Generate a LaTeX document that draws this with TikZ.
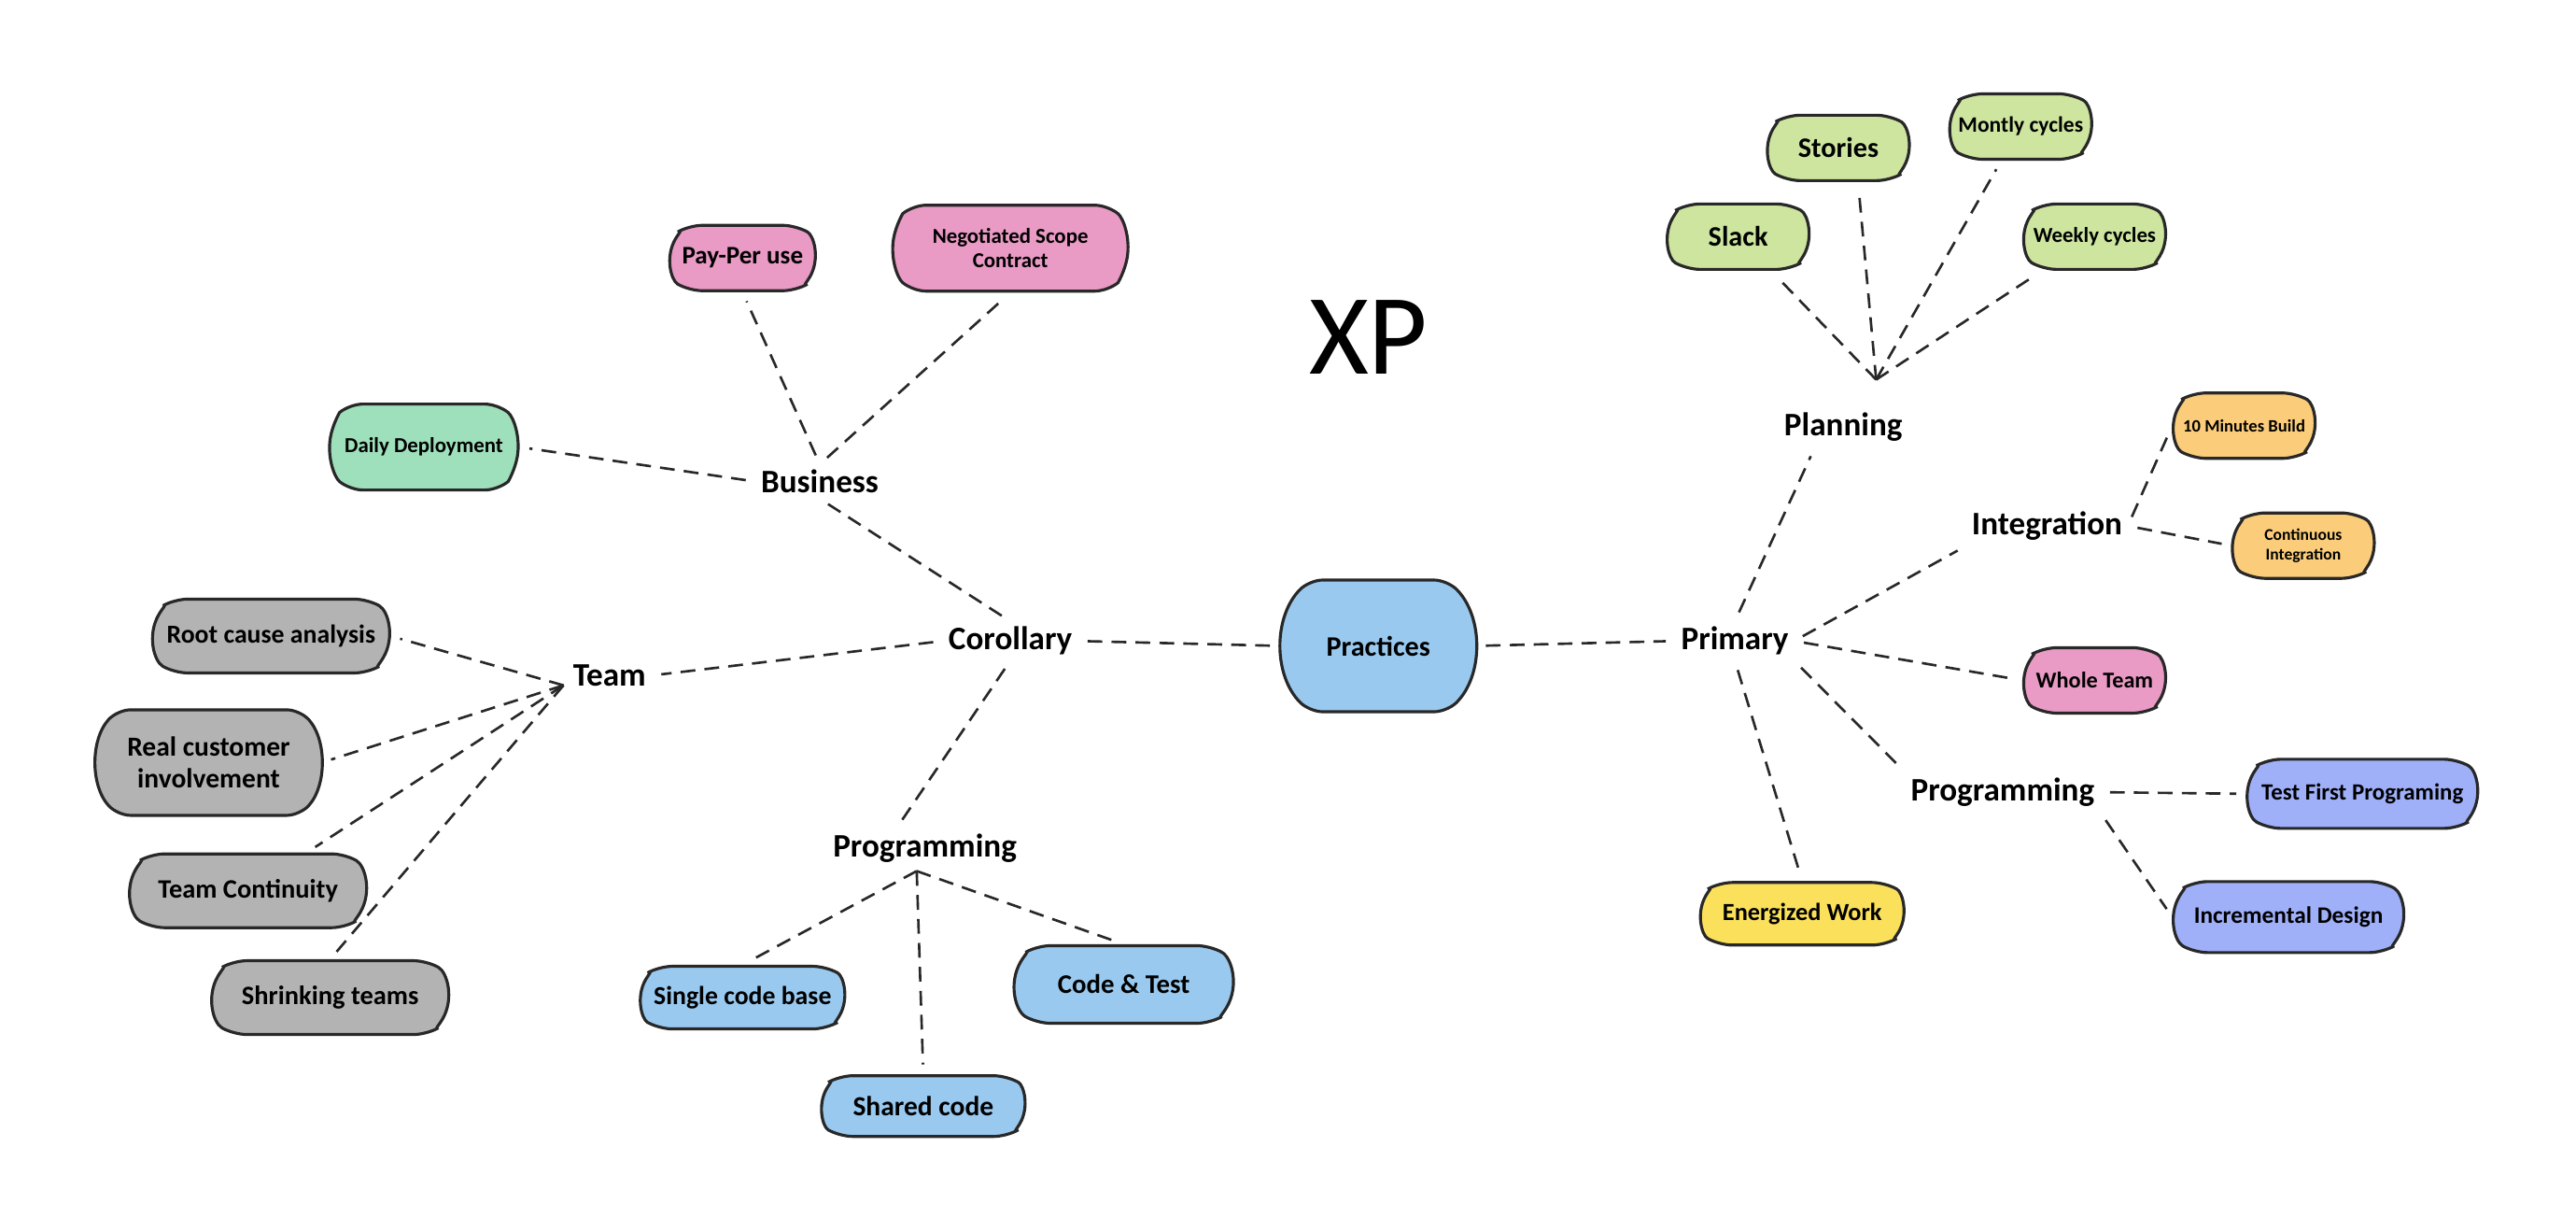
\documentclass[tikz,border=0pt]{standalone}
\usepackage{fontspec}
\setmainfont{Carlito}
\usetikzlibrary{shapes.misc}
\definecolor{pinkbox}{RGB}{233,154,197}
\definecolor{mintbox}{RGB}{158,224,187}
\definecolor{greybox}{RGB}{179,179,179}
\definecolor{bluebox}{RGB}{153,201,239}
\definecolor{limebox}{RGB}{205,229,159}
\definecolor{orangebox}{RGB}{251,204,122}
\definecolor{violetbox}{RGB}{159,176,249}
\definecolor{yellowbox}{RGB}{251,224,92}
\definecolor{edgeline}{RGB}{40,40,40}
\begin{document}
\begin{tikzpicture}[x=0.17596mm,y=-0.17596mm,
  box/.style={rounded rectangle,rounded rectangle arc length=120,rounded corners=4pt,draw=edgeline,line width=0.9pt,inner sep=1pt,align=center},
  fs/.style={font=\bfseries\fontsize{#1}{#1}\selectfont},
  lab/.style={font=\bfseries\fontsize{10}{12}\selectfont,inner sep=1.5pt},
  link/.style={edgeline,line width=0.75pt,dash pattern=on 4.5pt off 2.8pt,shorten <=3pt,shorten >=3pt},
  hublink/.style={link,shorten <=0pt}]
\useasboundingbox (0,0) rectangle (1568,749.6);

\node[font=\fontsize{35}{40}\selectfont] (xp) at (833,205) {XP};

% corollary side
\node[lab] (corollary) at (615,390) {Corollary};
\node[lab] (business) at (499,293) {Business};
\node[box,fill=pinkbox,minimum width=1.62cm,minimum height=0.70cm,fs=7.7] (payper) at (452,157) {Pay-Per use};
\node[box,fill=pinkbox,rounded rectangle arc length=100,minimum width=2.59cm,minimum height=0.92cm,font=\bfseries\fontsize{6.5}{7.6}\selectfont] (scope) at (615,151) {Negotiated Scope\\Contract};
\node[box,fill=mintbox,rounded rectangle arc length=100,minimum width=2.09cm,minimum height=0.92cm,fs=6.5] (daily) at (258,272) {Daily Deployment};
\node[lab] (team) at (371,411) {Team};
\coordinate (teamhub) at (343,417);
\node[box,fill=greybox,minimum width=2.60cm,minimum height=0.79cm,fs=7.9] (rootcause) at (165,387) {Root cause analysis};
\node[box,fill=greybox,rounded rectangle arc length=84,minimum width=2.46cm,minimum height=1.13cm,font=\bfseries\fontsize{8.4}{9.6}\selectfont] (realcust) at (127,464) {Real customer\\involvement};
\node[box,fill=greybox,minimum width=2.60cm,minimum height=0.79cm,fs=8.1] (continuity) at (151,542) {Team Continuity};
\node[box,fill=greybox,minimum width=2.60cm,minimum height=0.79cm,fs=8.1] (shrinking) at (201,607) {Shrinking teams};
\node[lab] (progL) at (563,516) {Programming};
\coordinate (proghub) at (558,530);
\node[box,fill=bluebox,minimum width=2.25cm,minimum height=0.67cm,fs=7.9] (singlecode) at (452,607) {Single code base};
\node[box,fill=bluebox,minimum width=2.41cm,minimum height=0.83cm,fs=8.2] (codetest) at (684,599) {Code \& Test};
\node[box,fill=bluebox,minimum width=2.24cm,minimum height=0.65cm,fs=8.4] (shared) at (562,673) {Shared code};

\node[box,fill=bluebox,rounded rectangle arc length=90,minimum width=2.13cm,minimum height=1.41cm,fs=8.6] (practices) at (839,393) {Practices};

% primary side
\node[lab] (primary) at (1056,390) {Primary};
\node[lab] (planning) at (1122,260) {Planning};
\coordinate (planhub) at (1142,231);
\node[box,fill=limebox,minimum width=1.58cm,minimum height=0.70cm,fs=8.6] (slack) at (1058,144) {Slack};
\node[box,fill=limebox,minimum width=1.58cm,minimum height=0.70cm,fs=8.6] (stories) at (1119,90) {Stories};
\node[box,fill=limebox,minimum width=1.58cm,minimum height=0.70cm,fs=6.7] (monthly) at (1230,77) {Montly cycles};
\node[box,fill=limebox,minimum width=1.58cm,minimum height=0.70cm,fs=6.5] (weekly) at (1275,144) {Weekly cycles};
\node[lab] (integration) at (1246,320) {Integration};
\node[box,fill=orangebox,minimum width=1.58cm,minimum height=0.70cm,fs=5.3] (tenmin) at (1366,259) {10 Minutes Build};
\node[box,fill=orangebox,minimum width=1.58cm,minimum height=0.70cm,font=\bfseries\fontsize{5}{6}\selectfont] (contint) at (1402,332) {Continuous\\Integration};
\node[box,fill=pinkbox,minimum width=1.58cm,minimum height=0.70cm,fs=6.9] (wholeteam) at (1275,414) {Whole Team};
\node[lab] (progR) at (1219,482) {Programming};
\node[box,fill=violetbox,minimum width=2.53cm,minimum height=0.74cm,fs=7.1] (testfirst) at (1438,483) {Test First Programing};
\node[box,fill=violetbox,minimum width=2.53cm,minimum height=0.76cm,fs=7.2] (incremental) at (1393,558) {Incremental Design};
\node[box,fill=yellowbox,minimum width=2.24cm,minimum height=0.67cm,fs=7.5] (energized) at (1097,556) {Energized Work};

% links
\draw[link] (business.west) -- (daily.east);
\draw[link] (business.north) -- (payper.south);
\draw[link] (business.north) -- (scope.south);
\draw[link] (business.south) -- (corollary.north);
\draw[link] (corollary.west) -- (team.east);
\draw[link] (corollary.east) -- (practices.west);
\draw[link] (corollary.south) -- (progL.145);
\draw[hublink] (teamhub) -- (rootcause.east);
\draw[hublink] (teamhub) -- (realcust.east);
\draw[hublink] (teamhub) -- (continuity);
\draw[hublink] (teamhub) -- (shrinking.north);
\draw[hublink] (proghub) -- (singlecode.north);
\draw[hublink] (proghub) -- (shared.north);
\draw[hublink] (proghub) -- (codetest.north);
\draw[link] (practices.east) -- (primary.west);
\draw[link] (primary.north) -- (planning.-145);
\draw[hublink] (planhub) -- (slack);
\draw[hublink] (planhub) -- (stories.-60);
\draw[hublink] (planhub) -- (monthly);
\draw[hublink] (planhub) -- (weekly);
\draw[link] (primary.east) -- (integration.south west);
\draw[link] (integration.east) -- (tenmin.west);
\draw[link] (integration.east) -- (contint.west);
\draw[link] (primary.east) -- (wholeteam.west);
\draw[link] (primary.south east) -- (progR.north west);
\draw[link] (primary.south) -- (energized.north);
\draw[link] (progR.east) -- (testfirst.west);
\draw[link] (progR.south east) -- (incremental.west);
\end{tikzpicture}
\end{document}
